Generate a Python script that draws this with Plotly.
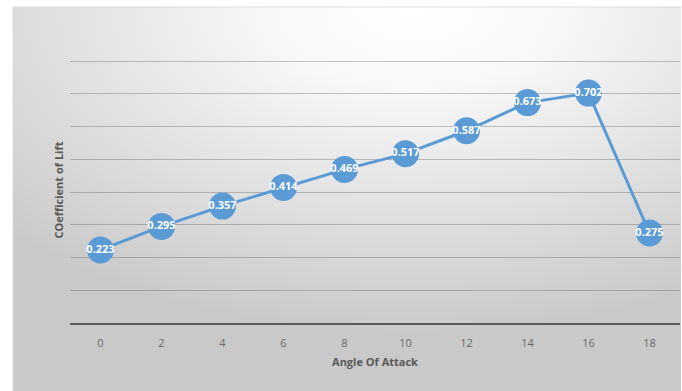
import plotly.graph_objects as go
import urllib.parse

angles = ["0", "2", "4", "6", "8", "10", "12", "14", "16", "18"]
cl = [0.223, 0.295, 0.357, 0.414, 0.469, 0.517, 0.587, 0.673, 0.702, 0.275]
labels = [f"{v:.3f}" for v in cl]

W, H = 682, 391
L, R, T, B = 70, 2, 57, 68
pw, ph = W - L - R, H - T - B
ymax = 0.8 * ph / (323 - 61)  # keep 0.8 gridline at y=61 while leaving room at top

svg = (
    "<svg xmlns='http://www.w3.org/2000/svg' width='100' height='100' viewBox='0 0 100 100' preserveAspectRatio='none'>"
    "<defs><radialGradient id='g' cx='0.6' cy='0.0' r='0.85' gradientUnits='objectBoundingBox'>"
    "<stop offset='0' stop-color='#ffffff'/>"
    "<stop offset='0.25' stop-color='#f8f8f8'/>"
    "<stop offset='0.6' stop-color='#e2e2e2'/>"
    "<stop offset='1' stop-color='#c9c9c9'/>"
    "</radialGradient></defs>"
    "<rect x='0' y='0' width='100' height='100' fill='url(#g)'/></svg>"
)
src = "data:image/svg+xml;charset=utf-8," + urllib.parse.quote(svg)

x0p = (13 - L) / pw
x1p = (681 - L) / pw
y1p = (H - B - 7) / ph
y0p = (H - B - 391) / ph

fig = go.Figure()
fig.add_trace(go.Scatter(
    x=angles, y=cl, mode="lines+markers+text",
    line=dict(color="#5b9bd5", width=3),
    marker=dict(color="#5b9bd5", size=27),
    text=labels, textposition="middle center",
    textfont=dict(color="white", size=11, family="Open Sans", weight="bold"),
    cliponaxis=False, hoverinfo="skip",
))

fig.update_layout(
    width=W, height=H, autosize=False,
    margin=dict(l=L, r=R, t=T, b=B, autoexpand=False),
    paper_bgcolor="white", plot_bgcolor="rgba(0,0,0,0)",
    showlegend=False,
    font=dict(family="Open Sans", color="#595959"),
    images=[dict(source=src, xref="paper", yref="paper",
                 x=x0p, y=y1p, sizex=x1p - x0p, sizey=y1p - y0p,
                 xanchor="left", yanchor="top", sizing="stretch", layer="below")],
    shapes=[dict(type="rect", xref="paper", yref="paper",
                 x0=x0p, x1=x1p + 0.01, y0=y0p - 0.01, y1=y1p,
                 line=dict(color="#dcdcdc", width=1), fillcolor="rgba(0,0,0,0)",
                 layer="below")],
    xaxis=dict(type="category", range=[-0.5, 9.5], showgrid=False, showline=True,
               linecolor="#595959", linewidth=2,
               ticks="outside", ticklen=9, tickcolor="rgba(0,0,0,0)",
               tickfont=dict(size=11, color="#6a6a6a"),
               title=dict(text="Angle Of Attack", standoff=9,
                          font=dict(size=11, color="#595959", weight="bold"))),
    yaxis=dict(range=[0, ymax], tickvals=[0.1, 0.2, 0.3, 0.4, 0.5, 0.6, 0.7, 0.8],
               showticklabels=False,
               showgrid=True, gridcolor="rgba(100,100,100,0.38)", gridwidth=1,
               zeroline=False, showline=False, ticks="",
               title=dict(text="COefficient of Lift", standoff=3,
                          font=dict(size=11, color="#595959", weight="bold"))),
)

fig.write_html("out.html", config={"responsive": False, "displayModeBar": False})
